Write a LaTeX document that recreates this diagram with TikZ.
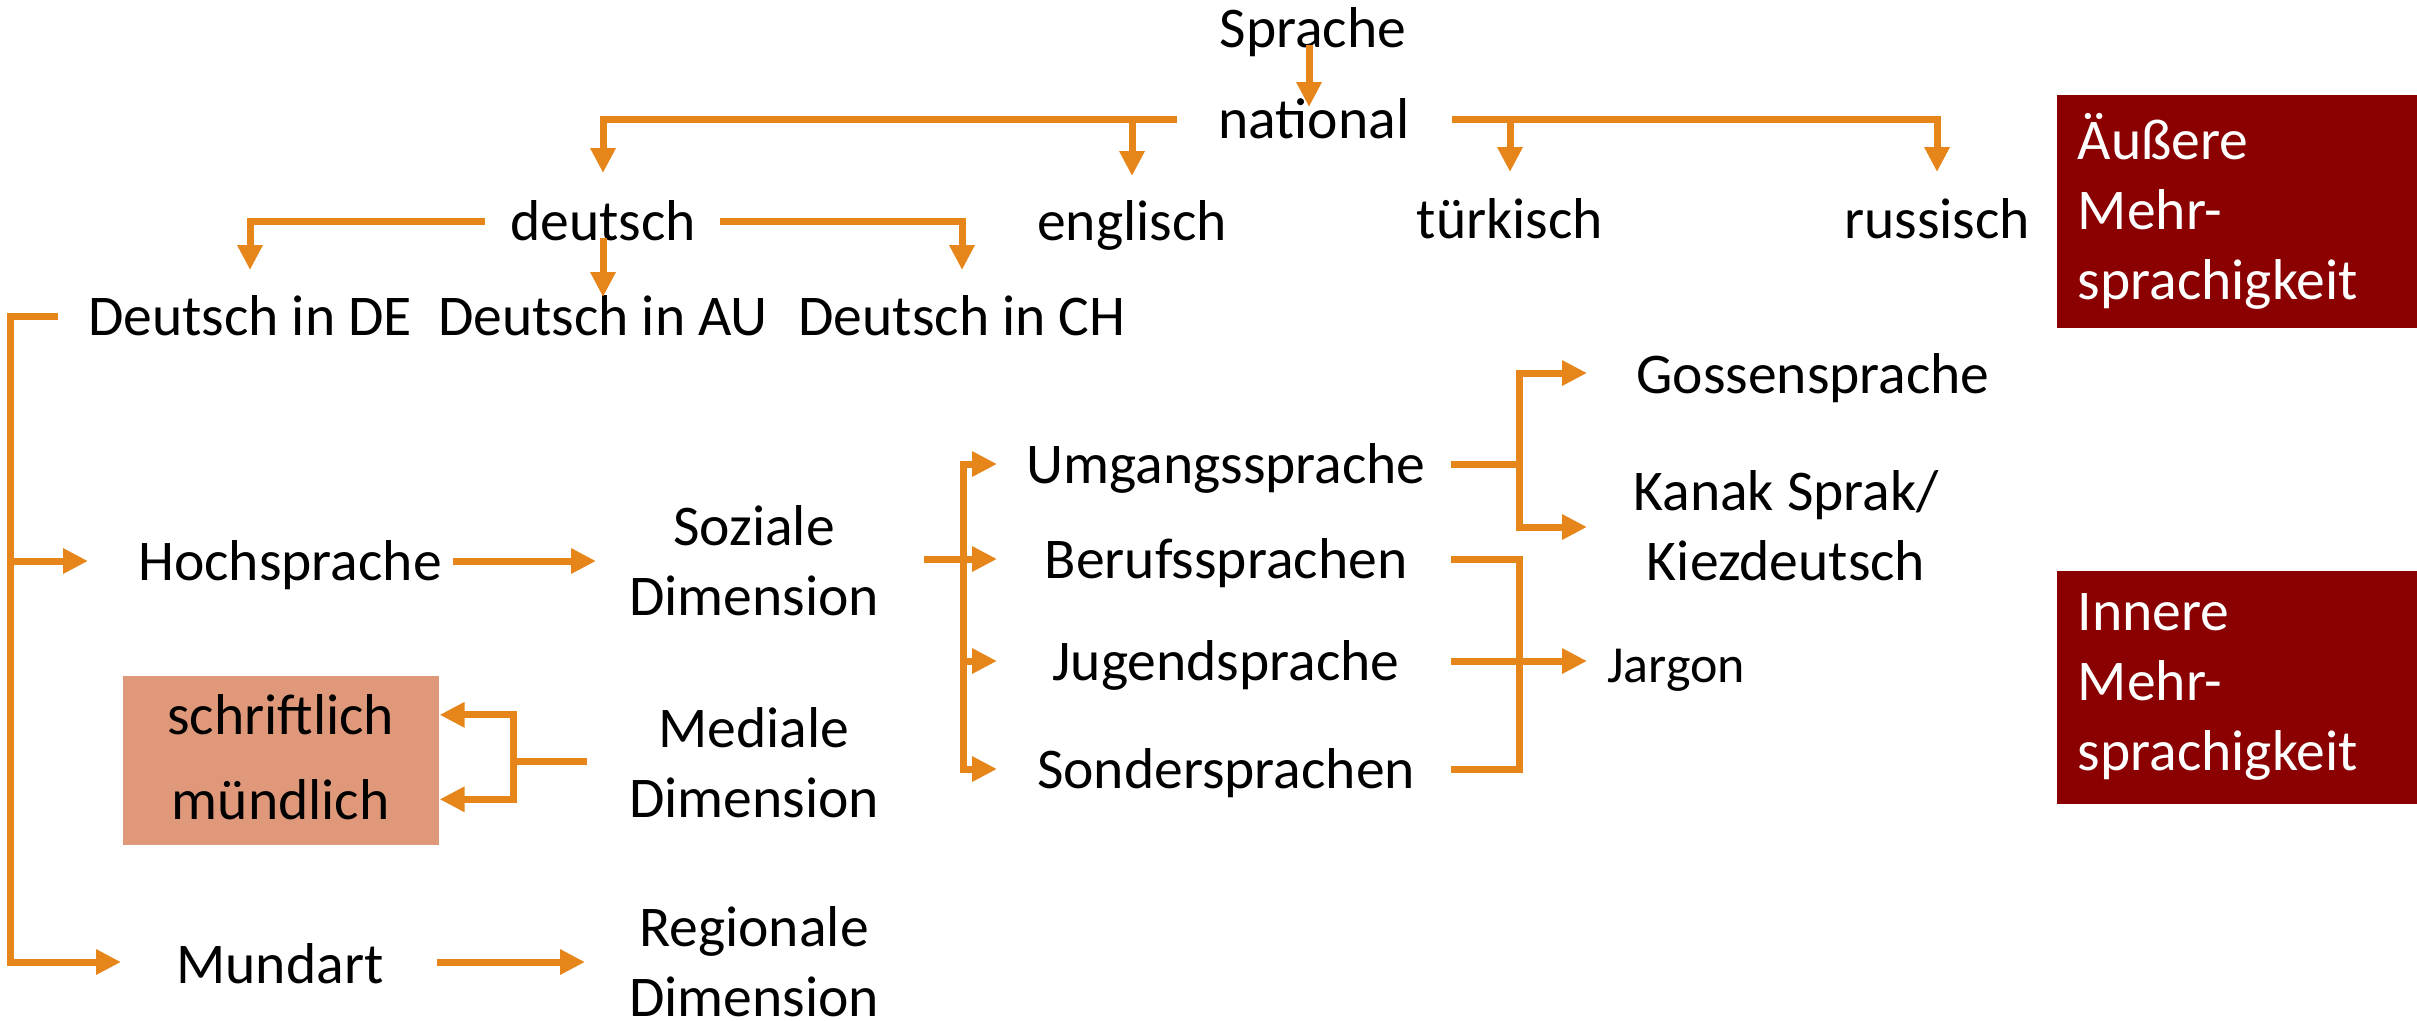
\documentclass[tikz,border=0pt]{standalone}
\usepackage{fontspec}
\setmainfont{Carlito}
\usetikzlibrary{arrows.meta}
\definecolor{org}{HTML}{E6851A}
\definecolor{salmon}{HTML}{E0987A}
\definecolor{dred}{HTML}{8B0000}
\newcommand\fmain{\fontsize{14.4pt}{17.5pt}\selectfont}
\newcommand\fsmall{\fontsize{13pt}{15pt}\selectfont}
\begin{document}
\begin{tikzpicture}[x=0.25pt,y=-0.25pt,
  line/.style={draw=org, line width=1.75pt},
  arr/.style={line, -{Triangle[length=6.25pt,width=6pt]}},
  txt/.style={font=\fmain, inner sep=0pt, anchor=base, align=center},
  sbox/.style={font=\fmain, inner sep=0pt, fill=salmon, anchor=north west, minimum width=79pt},
  rbox/.style={font=\fmain, fill=dred, text=white, align=left, anchor=north west,
               inner xsep=5.25pt, inner ysep=0pt, text width=79.75pt, minimum height=58.25pt}]
\path[use as bounding box] (0,0) rectangle (2417,1020);

% text nodes (multi-line nodes: base = last line)
\node[txt] (sprache) at (1313,47) {Sprache};
\node[txt] (national) at (1314,138) {national};
\node[txt] (deutsch) at (603,240) {deutsch};
\node[txt] (englisch) at (1132,240) {englisch};
\node[txt] (tuerkisch) at (1510,238) {türkisch};
\node[txt] (russisch) at (1937,238) {russisch};
\node[txt] (de) at (250,335) {Deutsch in DE};
\node[txt] (au) at (603,335) {Deutsch in AU};
\node[txt] (ch) at (962,335) {Deutsch in CH};
\node[txt] (hoch) at (290,580) {Hochsprache};
\node[txt] (soz) at (754,615) {Soziale\\Dimension};
\node[txt] (med) at (754,817) {Mediale\\Dimension};
\node[txt] (reg) at (754,1016) {Regionale\\Dimension};
\node[txt] (mund) at (280,983) {Mundart};
\node[sbox, minimum height=19.5pt] (schr) at (122,675) {schriftlich};
\node[sbox, minimum height=22.75pt] (muend) at (122,753) {mündlich};
\node[txt] (umg) at (1226,483) {Umgangssprache};
\node[txt] (ber) at (1226,578) {Berufssprachen};
\node[txt] (jug) at (1226,680) {Jugendsprache};
\node[txt] (son) at (1226,788) {Sondersprachen};
\node[txt] (goss) at (1813,393) {Gossensprache};
\node[txt] (kanak) at (1786,580) {Kanak Sprak/\\Kiezdeutsch};
\node[txt, font=\fsmall] (jargon) at (1676,682) {Jargon};
\node[rbox] (aussen) at (2056,94) {Äußere\\Mehr-\\sprachigkeit};
\node[rbox] (innen) at (2056,570) {Innere\\Mehr-\\sprachigkeit};

% connectors
\draw[arr] ([shift={(-4,-2)}]sprache.base) -- ([shift={(-5,-31)}]national.base);

\draw[arr] ([shift={(-137,-19)}]national.base) coordinate (natL) -| ([shift={(0,-67)}]deutsch.base);
\draw[arr] (englisch.base |- natL) -- ([shift={(0,-64)}]englisch.base);
\draw[arr] ([shift={(138,-19)}]national.base) coordinate (natR) -| ([shift={(0,-66)}]russisch.base);
\draw[arr] (tuerkisch.base |- natR) -- ([shift={(0,-66)}]tuerkisch.base);

\draw[arr] ([shift={(-118,-19)}]deutsch.base) -| ([shift={(0,-65)}]de.base);
\draw[arr] ([shift={(117,-19)}]deutsch.base) -| ([shift={(0,-65)}]ch.base);
\draw[arr] ([shift={(0,-2)}]deutsch.base) -- ([shift={(0,-38)}]au.base);

\coordinate (hochTip) at ([shift={(-202,-19)}]hoch.base);
\draw[arr] ([shift={(-192,-19)}]de.base) -- ++(-48,0) coordinate (lb) |- ([shift={(-159,-21)}]mund.base);
\draw[arr] (lb |- hochTip) -- (hochTip);

\draw[arr] ([shift={(163,-19)}]hoch.base) -- ([shift={(-158,-54)}]soz.base);

\draw[line] ([shift={(-167,-56)}]med.base) -- ++(-74,0) coordinate (mj);
\draw[arr] (mj) |- (schr.east);
\draw[arr] (mj) |- (muend.east);

\draw[arr] ([shift={(157,-21)}]mund.base) -- ([shift={(-169,-54)}]reg.base);

\draw[arr] ([shift={(170,-56)}]soz.base) -- ++(39,0) coordinate (sj) -- ([shift={(-229,-19)}]ber.base);
\draw[arr] (sj) |- ([shift={(-229,-19)}]umg.base);
\draw[arr] (sj) |- ([shift={(-229,-19)}]jug.base);
\draw[arr] (sj) |- ([shift={(-229,-19)}]son.base);

\draw[line] ([shift={(225,-19)}]umg.base) -- ++(68,0) coordinate (uj);
\draw[arr] (uj) |- ([shift={(-226,-20)}]goss.base);
\draw[arr] (uj) |- ([shift={(-199,-53)}]kanak.base);

\coordinate (sonS) at ([shift={(225,-19)}]son.base);
\draw[line] ([shift={(225,-19)}]ber.base) -- ++(68,0) coordinate (jt) -- (jt |- sonS) -- (sonS);
\draw[arr] ([shift={(225,-19)}]jug.base) -- ([shift={(-89,-21)}]jargon.base);
\end{tikzpicture}
\end{document}
